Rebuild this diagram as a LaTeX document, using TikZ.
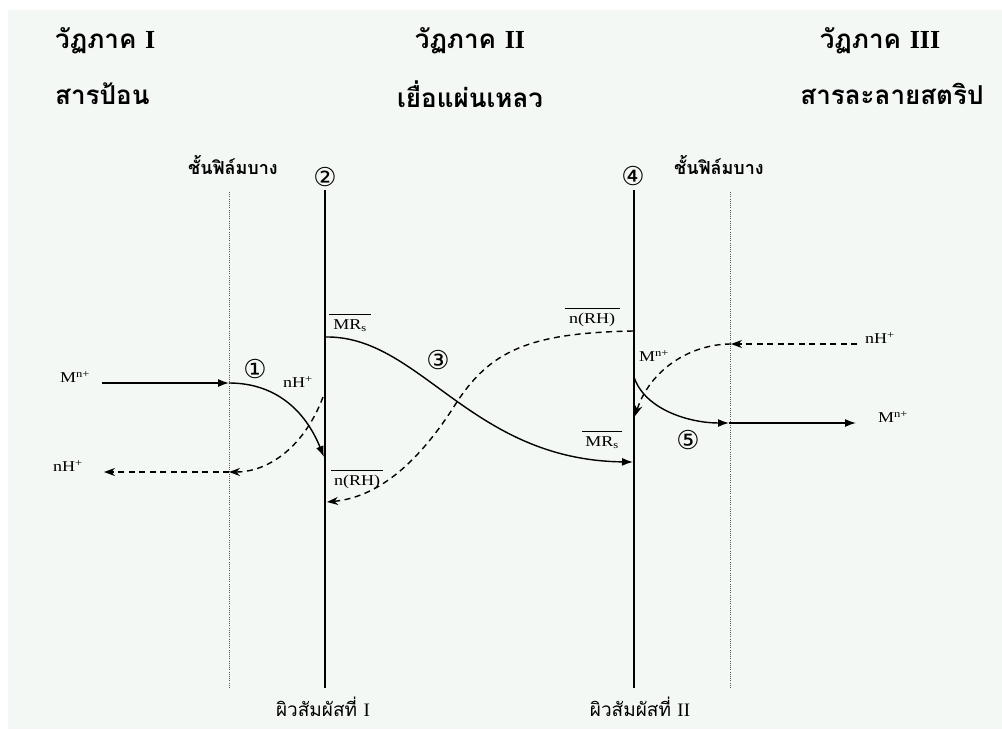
\documentclass[tikz,border=0pt]{standalone}
\usepackage{fontspec}
\setmainfont{Liberation Serif}
\newfontfamily\thaifont[Script=Thai]{Loma}
\newfontfamily\symfont{DejaVu Sans}
\newfontfamily\lblfont[FakeStretch=1.2]{Liberation Serif}
\usetikzlibrary{arrows.meta}
\definecolor{bgc}{HTML}{F4F8F5}
\newcommand{\barlbl}[2]{\begin{tabular}{@{}c@{}}\rule{#1}{1.3pt}\\[-3pt]#2\end{tabular}}
\begin{document}
\begin{tikzpicture}[x=1pt,y=-1pt,
  ttl/.style={font=\thaifont\bfseries\fontsize{26}{30}\selectfont, inner sep=0pt},
  thai/.style={font=\thaifont\fontsize{19}{22}\selectfont, inner sep=0pt},
  thaib/.style={font=\thaifont\bfseries\fontsize{18}{22}\selectfont, inner sep=0pt},
  lbl/.style={font=\lblfont\fontsize{15}{17}\selectfont, inner sep=0pt},
  num/.style={font=\symfont\fontsize{26}{30}\selectfont, inner sep=0pt},
  iface/.style={line width=1.8pt},
  film/.style={line width=0.9pt, black!65, dash pattern=on 1pt off 1.2pt},
  flow/.style={line width=1.4pt, -{Latex[length=11pt,width=8pt]}},
  back/.style={line width=1.4pt, dash pattern=on 6pt off 4.5pt, -{Stealth[length=11pt,width=8pt]}},
]
\useasboundingbox (0,0) rectangle (1002,729);
\fill[white] (0,0) rectangle (1002,729);
\fill[bgc] (8,10) rectangle (1002,729);

% titles
\node[ttl, anchor=west] (t1) at (55,41) {วัฏภาค {\rmfamily I}};
\node[ttl, anchor=west] (s1) at (55,94) {สารป้อน};
\node[ttl] (t2) at (470,41) {วัฏภาค {\rmfamily II}};
\node[ttl] (s2) at (470,94) {เยื่อแผ่นเหลว};
\node[ttl] (t3) at (880,41) {วัฏภาค {\rmfamily III}};
\node[ttl] (s3) at (892,94) {สารละลายสตริป};

% film labels and numbers
\node[thaib] (film1) at (233,165) {ชั้นฟิล์มบาง};
\node[thaib] (film2) at (719,165) {ชั้นฟิล์มบาง};
\node[num] (n2) at (325,177) {②};
\node[num] (n4) at (633,176) {④};

% vertical lines
\coordinate (d1t) at (229,192); \coordinate (d1b) at (229,688);
\coordinate (d2t) at (730,192); \coordinate (d2b) at (730,688);
\coordinate (i1t) at (325,190); \coordinate (i1b) at (325,688);
\coordinate (i2t) at (634,190); \coordinate (i2b) at (634,688);
\draw[film] (d1t) -- (d1b);
\draw[film] (d2t) -- (d2b);
\draw[iface] (i1t) -- (i1b);
\draw[iface] (i2t) -- (i2b);

% bottom labels
\node[thai] (c1) at (323,707) {ผิวสัมผัสที่ {\rmfamily I}};
\node[thai] (c2) at (640,707) {ผิวสัมผัสที่ {\rmfamily II}};

% text labels
\node[lbl] (Ml) at (75,377) {M\textsuperscript{n+}};
\node[lbl] (Hl) at (68,466) {nH\textsuperscript{+}};
\node[num] (n1) at (255,369) {①};
\node[lbl] (Hm) at (298,382) {nH\textsuperscript{+}};
\node[lbl] (MRa) at (350,319) {\barlbl{42pt}{MR\textsubscript{s}}};
\node[num] (n3) at (438,360) {③};
\node[lbl] (RHa) at (592,313) {\barlbl{55pt}{n(RH)}};
\node[lbl] (RHb) at (357,475) {\barlbl{52pt}{n(RH)}};
\node[lbl] (MRb) at (602,436) {\barlbl{40pt}{MR\textsubscript{s}}};
\node[lbl] (Mm) at (654,356) {M\textsuperscript{n+}};
\node[num] (n5) at (688,440) {⑤};
\node[lbl] (Hr) at (880,338) {nH\textsuperscript{+}};
\node[lbl] (Mr) at (893,417) {M\textsuperscript{n+}};

% connector points
\coordinate (mA) at (102,383);
\coordinate (mB) at (229,383);
\coordinate (mC) at (324,457);
\coordinate (hA) at (323,397);
\coordinate (hB) at (229,472);
\coordinate (hC) at (104,472);
\coordinate (rA) at (325,337);
\coordinate (rB) at (633,462);
\coordinate (qA) at (633,331);
\coordinate (qM) at (455,405);
\coordinate (qB) at (327,502);
\coordinate (pA) at (634,377);
\coordinate (pB) at (729,423);
\coordinate (pC) at (856,423);
\coordinate (kA) at (857,344);
\coordinate (kB) at (731,344);
\coordinate (kC) at (635,416);

% phase I side
\draw[flow] (mA) -- (mB);
\draw[flow] (mB) .. controls (275,383) and (305,410) .. (mC);
\draw[back] (hA) .. controls (305,445) and (270,472) .. (hB);
\draw[back] (hB) -- (hC);

% membrane transport
\draw[flow] (rA) .. controls (420,335) and (470,460) .. (rB);
\draw[back] (qA) .. controls (530,333) and (490,350) .. (qM) .. controls (420,460) and (380,497) .. (qB);

% phase III side
\draw[flow] (pA) .. controls (645,410) and (690,423) .. (pB);
\draw[flow] (pB) -- (pC);
\draw[back] (kA) -- (kB);
\draw[back] (kB) .. controls (690,344) and (650,370) .. (kC);
\end{tikzpicture}
\end{document}
